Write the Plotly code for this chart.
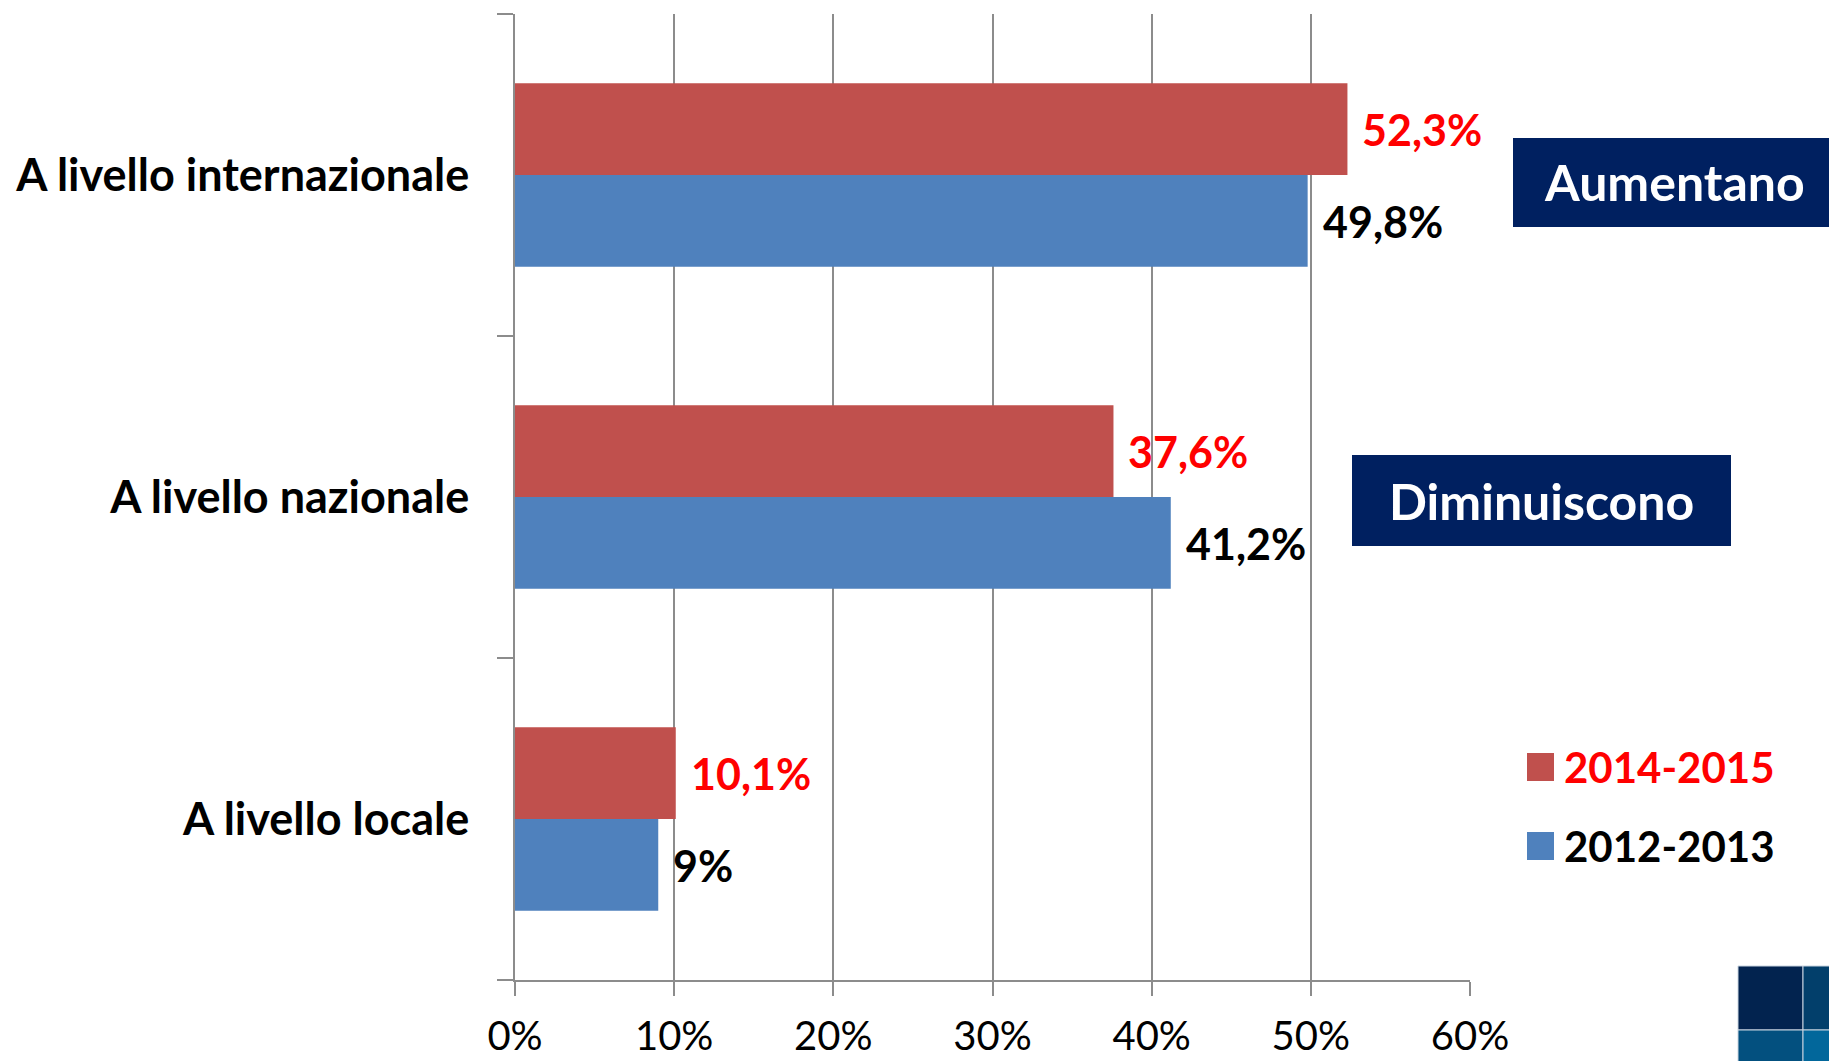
import plotly.graph_objects as go

# ---- data ----
categories = ["A livello locale", "A livello nazionale", "A livello internazionale"]
series_2014_2015 = [10.1, 37.6, 52.3]
series_2012_2013 = [9.0, 41.2, 49.8]
series_names = ["2014-2015", "2012-2013"]
x_ticks = [0, 10, 20, 30, 40, 50, 60]
x_tick_labels = ["0%", "10%", "20%", "30%", "40%", "50%", "60%"]
box_labels = ["Aumentano", "Diminuiscono"]

RED = "#C0504D"
BLUE = "#4F81BD"
NAVY = "#002060"
GRID = "#8C8C8C"
FONT = "Lato"

W, H = 1829, 1061
# plot area in page pixels: x 515..1470, y 14..980
PL, PR, PT, PB = 515, 1470, 14, 980
L, T, R, B = PL, PT, W - PR, H - PB


def px2paper(px, py):
    return (px - PL) / (PR - PL), (PB - py) / (PB - PT)


def fmt(v):
    s = f"{v:.1f}".replace(".", ",")
    if s.endswith(",0"):
        s = s[:-2]
    return s + "%"


fig = go.Figure()
fig.add_trace(go.Bar(y=categories, x=series_2012_2013, orientation="h",
                     marker=dict(color=BLUE, line=dict(width=0)), name=series_names[1]))
fig.add_trace(go.Bar(y=categories, x=series_2014_2015, orientation="h",
                     marker=dict(color=RED, line=dict(width=0)), name=series_names[0]))

annotations = []
bar_shift = 46
for cat, v in zip(categories, series_2014_2015):
    annotations.append(dict(x=v, y=cat, xref="x", yref="y", text=f"<b>{fmt(v)}</b>",
                            showarrow=False, xanchor="left", yanchor="middle",
                            xshift=13, yshift=bar_shift,
                            font=dict(family=FONT, size=43, color="#FF0000")))
for cat, v in zip(categories, series_2012_2013):
    annotations.append(dict(x=v, y=cat, xref="x", yref="y", text=f"<b>{fmt(v)}</b>",
                            showarrow=False, xanchor="left", yanchor="middle",
                            xshift=13, yshift=-bar_shift,
                            font=dict(family=FONT, size=43, color="#000000")))

# navy boxes (page pixels)
boxes = [(box_labels[0], 1513, 1840, 138, 227), (box_labels[1], 1352, 1731, 455, 546)]
text_cx = [1674, 1541]
shapes = []
for (text, x0, x1, y0, y1), tcx in zip(boxes, text_cx):
    bx0, by0 = px2paper(x0, y1)
    bx1, by1 = px2paper(x1, y0)
    shapes.append(dict(type="rect", xref="paper", yref="paper", x0=bx0, x1=bx1, y0=by0, y1=by1,
                       fillcolor=NAVY, line=dict(width=0), layer="below"))
    cx, cy = px2paper(tcx, (y0 + y1) / 2)
    annotations.append(dict(x=cx, y=cy, xref="paper", yref="paper", text=f"<b>{text}</b>",
                            showarrow=False, xanchor="center", yanchor="middle",
                            font=dict(family=FONT, size=50, color="white")))

# manual legend
legend_items = [(series_names[0], RED, "#FF0000", 767), (series_names[1], BLUE, "#000000", 846)]
for name, col, tcol, cy in legend_items:
    x0, y0 = px2paper(1527, cy + 14)
    x1, y1 = px2paper(1554, cy - 14)
    shapes.append(dict(type="rect", xref="paper", yref="paper", x0=x0, x1=x1, y0=y0, y1=y1,
                       fillcolor=col, line=dict(width=0)))
    tx, ty = px2paper(1562, cy)
    annotations.append(dict(x=tx, y=ty, xref="paper", yref="paper", text=f"<b>{name}</b>",
                            showarrow=False, xanchor="left", yanchor="middle",
                            font=dict(family=FONT, size=42, color=tcol)))

# logo squares (bottom right)
logo = [(1738, 1803, 966, 1030, "#02234F"), (1803, 1880, 966, 1030, "#023F6B"),
        (1738, 1803, 1030, 1110, "#03507F"), (1803, 1880, 1030, 1110, "#02679B")]
for x0p, x1p, y0p, y1p, col in logo:
    x0, y0 = px2paper(x0p, y1p)
    x1, y1 = px2paper(x1p, y0p)
    shapes.append(dict(type="rect", xref="paper", yref="paper", x0=x0, x1=x1, y0=y0, y1=y1,
                       fillcolor=col, line=dict(width=1, color="#C8D4E0"), layer="above"))

fig.update_layout(
    width=W, height=H,
    margin=dict(l=L, r=R, t=T, b=B, autoexpand=False),
    paper_bgcolor="white", plot_bgcolor="white",
    barmode="group", bargap=0.43, bargroupgap=0,
    showlegend=False,
    annotations=annotations, shapes=shapes,
    xaxis=dict(range=[0, 60], tickmode="array", tickvals=x_ticks, ticktext=x_tick_labels,
               showgrid=True, gridcolor=GRID, gridwidth=1.5,
               showline=True, linecolor=GRID, linewidth=1.5,
               ticks="outside", ticklen=14, tickcolor=GRID, tickwidth=1.5,
               ticklabelstandoff=6, zeroline=False,
               tickfont=dict(family=FONT, size=40, color="black")),
    yaxis=dict(categoryorder="array", categoryarray=categories,
               showline=True, linecolor=GRID, linewidth=1.5,
               ticks="outside", ticklen=16, tickcolor=GRID, tickwidth=1.5,
               tickson="boundaries", showgrid=False, ticklabelstandoff=35,
               tickfont=dict(family=FONT, size=45, color="black"),
               tickprefix="<b>", ticksuffix="</b>"),
)

fig.write_html("out.html", config={"displayModeBar": False},
               post_script="document.body.style.margin='0';document.body.style.overflow='hidden';")
